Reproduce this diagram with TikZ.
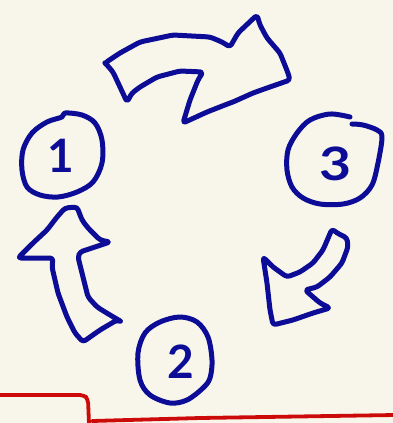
\documentclass[tikz,border=0pt]{standalone}
\usepackage{fontspec}
\setmainfont{Lato}
\definecolor{paper}{RGB}{248,246,234}
\definecolor{ink}{RGB}{12,12,150}
\definecolor{pen}{RGB}{204,10,10}
\begin{document}
\begin{tikzpicture}[x=1pt, y=-1pt, line cap=round, line join=round]
  \tikzset{stroke/.style={draw=ink, line width=5pt}, redstroke/.style={draw=pen, line width=3.8pt}, num/.style={text=ink, font=\bfseries\fontsize{46}{46}\selectfont, inner sep=0pt}}
  \useasboundingbox[fill=paper] (0,0) rectangle (393,423);

  % circled numbers: the ring is drawn by hand round each label.
  \node[num] (one) at (61,156) {1};
  \draw[stroke] plot[smooth cycle, tension=.55] coordinates {(62,117) (47,122) (32,133) (23,150) (22,170) (27,187) (40,195) (58,197) (77,192) (93,182) (102,163) (102,140) (95,123) (82,115) (65,113)};

  \node[num] (two) at (181,362) {2};
  \draw[stroke] plot[smooth cycle, tension=.55] coordinates {(210,378) (212,360) (208,337) (197,322) (180,317) (160,322) (145,333) (138,353) (140,380) (150,395) (170,403) (187,400) (203,388)};

  \node[num, xscale=1.2] (three) at (336,164) {3};
  \draw[stroke] plot[smooth, tension=.55] coordinates {(350,117) (330,114) (310,120) (297,133) (288,150) (287,170) (292,187) (303,198) (320,204) (343,204) (360,198) (372,185) (378,163) (382,137) (377,130) (363,125) (352,124)};

  % top arrow: from 1 over to 3.
  \draw[stroke, rounded corners=3pt] (107,65) -- (105,63) -- (120,53) -- (140,42) -- (173,35) -- (210,37) -- (222,42) -- (230,47) -- (238,33) -- (257,15) -- (260,25) -- (267,38) -- (280,53) -- (288,73) -- (290,80) -- (267,88) -- (253,93) -- (233,102) -- (230,103) -- (207,112) -- (183,123) -- (190,100) -- (198,80) -- (203,72) -- (180,71) -- (157,77) -- (140,87) -- (132,93) -- (127,102) -- (120,87) -- (113,72) -- cycle;

  % right arrow: from 3 down to 2.
  \draw[stroke, rounded corners=3pt] (332,229) -- (337,233) -- (347,238) -- (348,247) -- (342,263) -- (330,277) -- (317,287) -- (305,290) -- (320,303) -- (330,308) -- (313,313) -- (293,320) -- (273,325) -- (270,310) -- (267,283) -- (263,257) -- (273,267) -- (287,277) -- (300,272) -- (313,263) -- (323,250) -- cycle;

  % left arrow: from 2 up to 1.
  \draw[stroke, rounded corners=3pt] (77,207) -- (82,220) -- (88,228) -- (100,240) -- (110,242) -- (80,252) -- (78,257) -- (83,277) -- (88,297) -- (97,307) -- (110,315) -- (122,322) -- (117,320) -- (100,330) -- (83,342) -- (75,333) -- (67,317) -- (58,293) -- (52,267) -- (53,258) -- (33,258) -- (18,258) -- (33,243) -- (47,230) -- (57,217) -- (65,208) -- cycle;

  % red line along the bottom edge.
  \draw[redstroke, rounded corners=4pt] (-2,395) -- (84,395) -- (88,399) -- (89,424);
  \draw[redstroke] (92,421) -- (200,418) -- (395,415);
\end{tikzpicture}
\end{document}
